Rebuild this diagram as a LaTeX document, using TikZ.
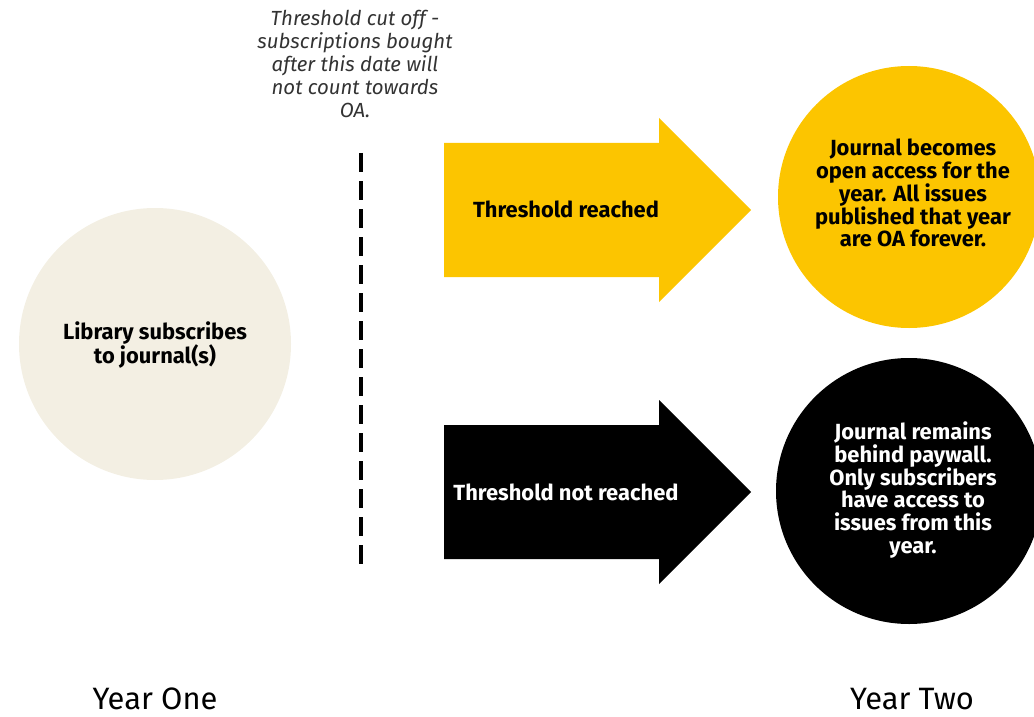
\documentclass[tikz,border=0pt]{standalone}
\usepackage{fontspec}
\setmainfont{Fira Sans}
\definecolor{cream}{HTML}{F3EFE3}
\definecolor{gold}{HTML}{FCC500}
\begin{document}
\begin{tikzpicture}[x=1bp,y=-1bp,
  circ/.style={circle,inner sep=0pt,minimum size=#1},
  bodytext/.style={align=center,font=\fontsize{22}{23}\selectfont\bfseries},
  yearlabel/.style={font=\fontsize{31}{36}\selectfont,inner sep=1bp}]
\useasboundingbox (0,0) rectangle (1034,717);
\clip (0,0) rectangle (1034,717);
% left circle
\node[circ=272bp,fill=cream] (lib) at (155,344) {};
\node[bodytext] (libt) at (155,345) {Library subscribes\\to journal(s)};
% dashed line
\coordinate (dtop) at (361,153);
\coordinate (dbot) at (361,566);
\draw[line width=4bp,dash pattern=on 19bp off 9bp] (dtop) -- (dbot);
\node[align=center,font=\fontsize{20.5}{23}\selectfont\itshape,text=black!80] (cut) at (355,64)
  {Threshold cut off -\\subscriptions bought\\after this date will\\not count towards\\OA.};
% arrows
\fill[gold] (444,143) -- (659,143) -- (659,118) -- (751,210) -- (659,302) -- (659,277) -- (444,277) -- cycle;
\node[bodytext] (reach) at (566,209) {Threshold reached};
\fill[black] (444,425) -- (659,425) -- (659,400) -- (751,492) -- (659,584) -- (659,559) -- (444,559) -- cycle;
\node[bodytext,text=white] (notreach) at (566,492) {Threshold not reached};
% right circles
\node[circ=262bp,fill=gold] (oa) at (909,197) {};
\node[bodytext] (oat) at (913,193) {Journal becomes\\open access for the\\year. All issues\\published that year\\are OA forever.};
\node[circ=266bp,fill=black] (pw) at (909,491) {};
\node[bodytext,text=white] (pwt) at (913,490) {Journal remains\\behind paywall.\\Only subscribers\\have access to\\issues from this\\year.};
% year labels
\node[yearlabel] (y1) at (155,699) {Year One};
\node[yearlabel] (y2) at (912,699) {Year Two};
\end{tikzpicture}
\end{document}
